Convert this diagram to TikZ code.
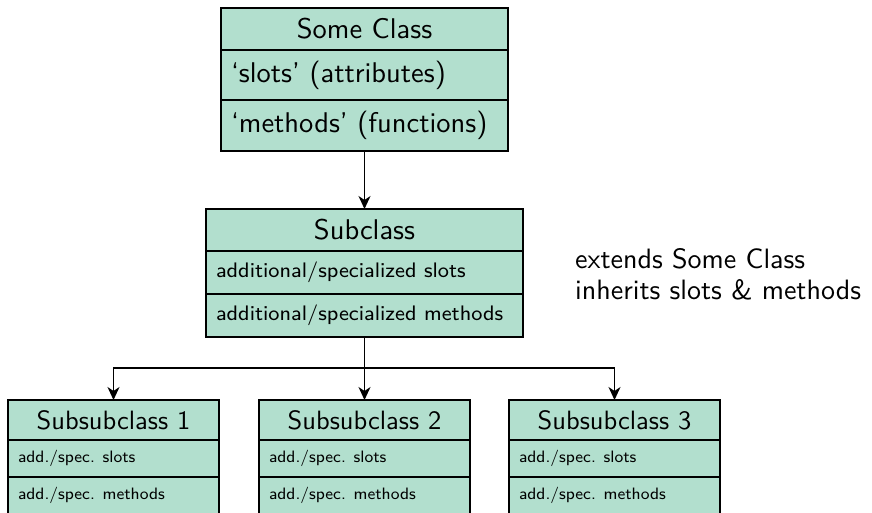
\documentclass[tikz,border=0pt]{standalone}
\usepackage{fontspec}
\usetikzlibrary{arrows.meta}
% Latin Modern Sans design sizes, used at every size
\newfontfamily\classfont[Ligatures=TeX]{lmsans10-regular.otf}
\newfontfamily\memberfont[Ligatures=TeX]{lmsans8-regular.otf}
\definecolor{classfill}{RGB}{178,223,206}
\tikzset{
  cell/.style={draw=black, line width=1.8pt, fill=classfill, anchor=north west,
    inner sep=0pt, outer sep=0pt},
  titlecell/.style={cell, align=center},
  membercell/.style={cell, align=flush left, inner xsep=10pt},
  bigtxt/.style={font=\classfont\fontsize{28.5}{32}\selectfont},
  subtxt/.style={font=\classfont\fontsize{26.5}{30}\selectfont},
  midtxt/.style={font=\memberfont\fontsize{21}{25}\selectfont},
  smalltxt/.style={font=\memberfont\fontsize{16.5}{20}\selectfont},
  inherit/.style={line width=1.6pt, -{Stealth[length=13pt,width=12pt,inset=4pt]}},
  link/.style={line width=1.6pt},
}
\begin{document}
\begin{tikzpicture}[x=1pt,y=-1pt]
  \useasboundingbox (0,0) rectangle (872,512);
  \begin{scope}
  \clip (0,0) rectangle (872,512);
  % base class
  \node[titlecell, bigtxt, minimum width=287pt, minimum height=42pt] (ct) at (221,8) {Some Class};
  \node[membercell, bigtxt, minimum height=50pt, text width=267pt] (cs) at (221,50) {`slots' (attributes)};
  \node[membercell, bigtxt, minimum height=51pt, text width=267pt] (cm) at (221,100) {`methods' (functions)};
  % subclass
  \node[titlecell, bigtxt, minimum width=317pt, minimum height=42pt] (st) at (206,209) {Subclass};
  \node[membercell, midtxt, minimum height=43pt, text width=297pt] (ss) at (206,251) {additional/specialized slots};
  \node[membercell, midtxt, minimum height=43pt, text width=297pt] (sm) at (206,294) {additional/specialized methods};
  % subsubclasses
  \foreach \i/\x in {1/8, 2/259, 3/509} {
    \node[titlecell, subtxt, minimum width=211pt, minimum height=40pt] (t\i) at (\x,400) {Subsubclass \i};
    \node[membercell, smalltxt, minimum height=37pt, text width=191pt] (s\i) at (\x,440) {add./spec. slots};
    \node[membercell, smalltxt, minimum height=37pt, text width=191pt] (m\i) at (\x,477) {add./spec. methods};
  }
  \end{scope}
  % note beside the subclass
  \node[anchor=north west, align=left, inner sep=0pt, font=\classfont\fontsize{28}{31}\selectfont] (note) at (575,248)
    {extends Some Class\\inherits slots \& methods};
  % inheritance connectors
  \draw[inherit] (cm.south) -- (st.north);
  \coordinate (split) at (364.5,368);
  \draw[link] (sm.south) -- (split);
  \draw[inherit] (split) -| (t1.north);
  \draw[inherit] (split) -- (t2.north);
  \draw[inherit] (split) -| (t3.north);
\end{tikzpicture}
\end{document}
